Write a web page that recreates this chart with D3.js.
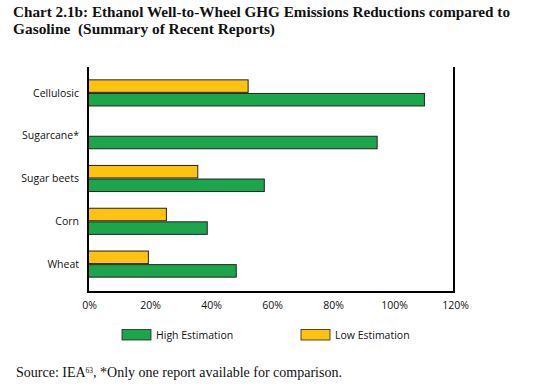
<!DOCTYPE html>
<html>
<head>
<meta charset="utf-8">
<script src="https://cdn.jsdelivr.net/npm/d3@7"></script>
<style>
body{margin:0;background:#fff;}
svg{display:block;}
</style>
</head>
<body>
<script>
// data
var categories=['Cellulosic','Sugarcane*','Sugar beets','Corn','Wheat'];
var lowEst=[52.5,null,36,25.7,19.8];
var highEst=[110.3,94.8,57.8,39.1,48.6];
var xTicks=[0,20,40,60,80,100,120];
var seriesNames=['High Estimation','Low Estimation'];

var W=538,H=389;
var green='#1ca64c',orange='#ffc20e';

var svg=d3.select('body').append('svg').attr('width',W).attr('height',H);

var x=d3.scaleLinear().domain([0,120]).range([88,454]);
var y=d3.scaleBand().domain(categories).range([71.5,285.5]).paddingInner(0.39).paddingOuter(0.195);
var sub=d3.scaleBand().domain(['low','high']).range([0,y.bandwidth()]).paddingInner(0.08);

// title
var title=svg.append('text')
    .style('font-family','Liberation Serif, serif').style('font-weight','bold').style('font-size','15px').attr('fill','#111');
title.append('tspan').attr('x',13).attr('y',17).attr('textLength',497).attr('lengthAdjust','spacingAndGlyphs')
    .text('Chart 2.1b: Ethanol Well-to-Wheel GHG Emissions Reductions compared to');
title.append('tspan').attr('x',13).attr('y',34).attr('textLength',262).attr('lengthAdjust','spacingAndGlyphs')
    .text('Gasoline\u00a0\u00a0(Summary of Recent Reports)');

var g=svg.append('g');

// bars
var rows=categories.map(function(c,i){return {cat:c,low:lowEst[i],high:highEst[i]};});
g.selectAll('rect.low').data(rows.filter(d=>d.low!=null)).enter().append('rect')
    .attr('x',x(0)).attr('y',d=>y(d.cat)+sub('low'))
    .attr('width',d=>x(d.low)-x(0)).attr('height',sub.bandwidth())
    .attr('fill',orange).attr('stroke','#222').attr('stroke-width',1);
g.selectAll('rect.high').data(rows).enter().append('rect')
    .attr('x',x(0)).attr('y',d=>y(d.cat)+sub('high'))
    .attr('width',d=>x(d.high)-x(0)).attr('height',sub.bandwidth())
    .attr('fill',green).attr('stroke','#222').attr('stroke-width',1);

// frame: left, bottom, right
g.append('path').attr('d','M'+x(0)+',67V'+292+'H'+x(120)+'V67')
    .attr('fill','none').attr('stroke','#000').attr('stroke-width',2);

// category labels
g.selectAll('text.cat').data(categories).enter().append('text')
    .attr('x',79).attr('y',d=>y(d)+y.bandwidth()/2).attr('dy','0.35em')
    .attr('text-anchor','end').text(d=>d)
    .style('font-family','Open Sans, sans-serif').style('font-size','10.5px').attr('fill','#111');

// x axis labels
var ax=d3.axisBottom(x).tickValues(xTicks).tickFormat(d=>d+'%').tickSize(0).tickPadding(0);
var axg=svg.append('g').attr('transform','translate(1,302)').call(ax);
axg.select('.domain').remove();
axg.selectAll('text').style('font-family','Open Sans, sans-serif').style('font-size','10.5px').attr('fill','#111');

// legend
var leg=[{name:seriesNames[0],c:green,x:122},{name:seriesNames[1],c:orange,x:301}];
var lg=svg.selectAll('g.leg').data(leg).enter().append('g').attr('transform',d=>'translate('+d.x+',329.5)');
lg.append('rect').attr('width',29).attr('height',10.5).attr('fill',d=>d.c).attr('stroke','#222').attr('stroke-width',0.8);
lg.append('text').attr('x',34).attr('y',5.5).attr('dy','0.35em').text(d=>d.name)
    .style('font-family','Open Sans, sans-serif').style('font-size','10.5px').attr('fill','#111');

// source
var src=svg.append('text').attr('x',16).attr('y',377)
    .style('font-family','Liberation Serif, serif').style('font-size','14px').attr('fill','#111');
src.append('tspan').text('Source: IEA');
src.append('tspan').attr('dy',-4).style('font-size','7.5px').text('63');
src.append('tspan').attr('dy',4).text(', *Only one report available for comparison.');
</script>
</body>
</html>
